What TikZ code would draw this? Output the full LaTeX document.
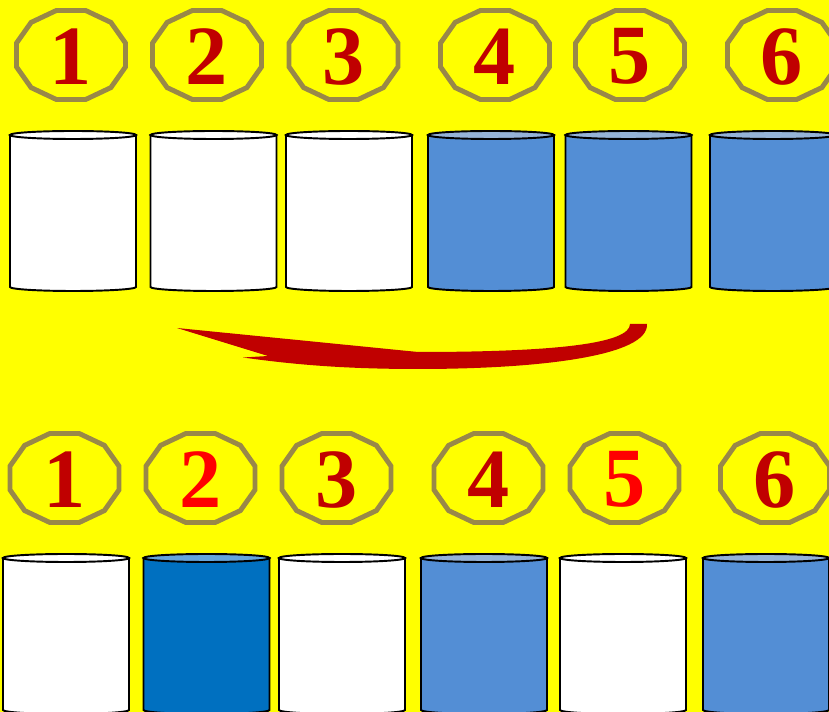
\documentclass[tikz,border=0pt]{standalone}
\usepackage{fontspec}
\setmainfont{Liberation Serif}
\definecolor{bgYellow}{HTML}{FFFF00}
\definecolor{mDarkRed}{HTML}{C00000}
\definecolor{mRed}{HTML}{FF0000}
\definecolor{mOlive}{HTML}{998848}
\definecolor{mBlue}{HTML}{538ED5}
\definecolor{mBlueTop}{HTML}{95B3D7}
\definecolor{mNavy}{HTML}{0070C0}
\definecolor{mNavyTop}{HTML}{65A5DC}
\tikzset{
  bdg/.style  = {draw=mOlive, line width=2.8pt, line join=miter},
  num/.style  = {font=\fontsize{48}{48}\selectfont\bfseries, text=mDarkRed, inner sep=0pt},
  numh/.style = {num, text=mRed},
  cyl/.style  = {draw=black, line width=1.1pt},
}

\begin{document}
\begin{tikzpicture}[x=0.02cm, y=-0.02cm]
  \useasboundingbox (0,0) rectangle (829,712);
  \clip (0,0) rectangle (829,712);
  \fill[bgYellow] (0,0) rectangle (829,712);
  % top row: badges
  \foreach \i/\x in {1/71,2/207,3/343.5,4/495,5/630,6/782} {
    \draw[bdg, shift={(\x,55)}] plot[variable=\a, samples at={15,45,...,345}] (\a:56.4 and 46.1) -- cycle;
    \node[num] (t\i) at (\x,56.5) {\i};
  }
  % top row: cylinders
  \foreach \x/\f/\g in {73/white/white,213.5/white/white,349/white/white,
                        491/mBlue/mBlueTop,628.5/mBlue/mBlueTop,773/mBlue/mBlueTop} {
    \filldraw[cyl, fill=\f] (\x-63,135) -- (\x-63,287)
      arc[start angle=180, end angle=0, x radius=63, y radius=4] -- (\x+63,135) -- cycle;
    \filldraw[cyl, fill=\g] (\x,135) ellipse[x radius=63, y radius=4];
  }
  % swoosh arrow
  \fill[mDarkRed] (177,328) -- (418,352)
    .. controls (560,352) and (630,343) .. (630,324) -- (647,324)
    .. controls (649,356) and (540,369) .. (418,369)
    .. controls (340,369) and (290,364) .. (243,357.5) -- (268,356) -- cycle;
  % bottom row: badges
  \foreach \i/\x/\s in {1/64.5/num,2/200.5/numh,3/336.5/num,4/488.5/num,5/624.5/numh,6/775/num} {
    \draw[bdg, shift={(\x,478)}] plot[variable=\a, samples at={15,45,...,345}] (\a:56.4 and 46.1) -- cycle;
    \node[\s] (b\i) at (\x,479.5) {\i};
  }
  % bottom row: cylinders
  \foreach \x/\f/\g in {66/white/white,206.5/mNavy/mNavyTop,342/white/white,
                        484/mBlue/mBlueTop,623/white/white,766/mBlue/mBlueTop} {
    \filldraw[cyl, fill=\f] (\x-63,558) -- (\x-63,710)
      arc[start angle=180, end angle=0, x radius=63, y radius=4] -- (\x+63,558) -- cycle;
    \filldraw[cyl, fill=\g] (\x,558) ellipse[x radius=63, y radius=4];
  }
\end{tikzpicture}
\end{document}
